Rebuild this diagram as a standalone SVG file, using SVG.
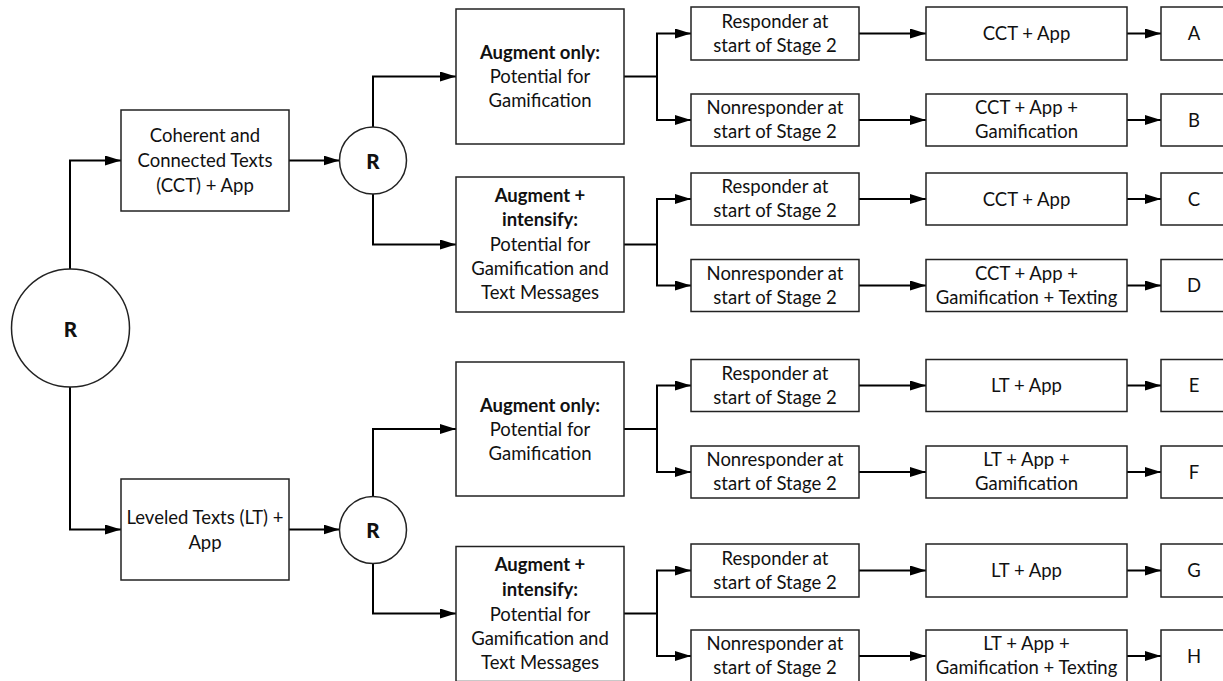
<svg xmlns="http://www.w3.org/2000/svg" width="1223" height="681" viewBox="0 0 1223 681">
<defs>
<marker id="arr" markerUnits="userSpaceOnUse" markerWidth="16" markerHeight="10" refX="16" refY="5" orient="auto">
<path d="M0,0 L16,5 L0,10 z" fill="#000"/>
</marker>
<style>
.box{fill:#fff;stroke:#222;stroke-width:1.5}
.c{fill:none;stroke:#000;stroke-width:2;marker-end:url(#arr)}
text{font-family:Lato,"Liberation Sans",sans-serif;font-size:18.5px;fill:#111;text-anchor:middle}
.b{font-weight:bold}
.r{font-weight:900;font-size:20.5px}
</style>
</defs>
<rect width="1223" height="681" fill="#fff"/>
<g id="connectors">
<path class="c" d="M70,269 V160.5 H121"/>
<path class="c" d="M70,387 V529.5 H121"/>
<path class="c" d="M289,160.5 H339.5"/>
<path class="c" d="M289,529.5 H339.5"/>
<path class="c" d="M373,127 V76.5 H456"/>
<path class="c" d="M373,194 V244.5 H456"/>
<path class="c" d="M373,496.5 V429 H456"/>
<path class="c" d="M373,563.5 V613.5 H456"/>
<path class="c" d="M624,76.5 H657 V33.5 H691"/>
<path class="c" d="M657,76.5 V120 H691"/>
<path class="c" d="M624,244.5 H657 V199 H691"/>
<path class="c" d="M657,244.5 V285.5 H691"/>
<path class="c" d="M624,429 H657 V385.5 H691"/>
<path class="c" d="M657,429 V472 H691"/>
<path class="c" d="M624,613.5 H657 V570.5 H691"/>
<path class="c" d="M657,613.5 V656 H691"/>
<path class="c" d="M859,33.5 H926"/><path class="c" d="M1127,33.5 H1161"/>
<path class="c" d="M859,120 H926"/><path class="c" d="M1127,120 H1161"/>
<path class="c" d="M859,199 H926"/><path class="c" d="M1127,199 H1161"/>
<path class="c" d="M859,285.5 H926"/><path class="c" d="M1127,285.5 H1161"/>
<path class="c" d="M859,385.5 H926"/><path class="c" d="M1127,385.5 H1161"/>
<path class="c" d="M859,472 H926"/><path class="c" d="M1127,472 H1161"/>
<path class="c" d="M859,570.5 H926"/><path class="c" d="M1127,570.5 H1161"/>
<path class="c" d="M859,656 H926"/><path class="c" d="M1127,656 H1161"/>
</g>
<g id="R0"><circle class="box" cx="70.5" cy="328" r="59"/><text class="r" x="70.5" y="336.5">R</text></g>
<g id="cct"><rect class="box" x="121" y="110" width="168" height="101"/>
<text x="205" y="142">Coherent and</text><text x="205" y="167">Connected Texts</text><text x="205" y="192">(CCT) + App</text></g>
<g id="lt"><rect class="box" x="121" y="479" width="168" height="101"/>
<text x="205" y="523.5">Leveled Texts (LT) +</text><text x="205" y="548.5">App</text></g>
<g id="R1"><circle class="box" cx="373" cy="160.5" r="33.5"/><text class="r" x="373" y="168.5">R</text></g>
<g id="R2"><circle class="box" cx="373" cy="530" r="33.5"/><text class="r" x="373" y="538">R</text></g>
<g id="aug1"><rect class="box" x="456" y="9" width="168" height="135"/>
<text class="b" x="540" y="59">Augment only:</text><text x="540" y="83">Potential for</text><text x="540" y="107">Gamification</text></g>
<g id="augint1"><rect class="box" x="456" y="177" width="168" height="135"/>
<text class="b" x="540" y="201.5">Augment +</text><text class="b" x="540" y="226">intensify:</text><text x="540" y="251">Potential for</text><text x="540" y="275">Gamification and</text><text x="540" y="299">Text Messages</text></g>
<g id="aug2"><rect class="box" x="456" y="362" width="168" height="134"/>
<text class="b" x="540" y="411.5">Augment only:</text><text x="540" y="435.5">Potential for</text><text x="540" y="459.5">Gamification</text></g>
<g id="augint2"><rect class="box" x="456" y="546.5" width="168" height="135"/>
<text class="b" x="540" y="571">Augment +</text><text class="b" x="540" y="595.5">intensify:</text><text x="540" y="620.5">Potential for</text><text x="540" y="644.5">Gamification and</text><text x="540" y="668.5">Text Messages</text></g>
<g id="resp1"><rect class="box" x="691" y="7" width="168" height="53"/><text x="775" y="27.5">Responder at</text><text x="775" y="51.5">start of Stage 2</text></g>
<g id="non1"><rect class="box" x="691" y="94" width="168" height="52"/><text x="775" y="114">Nonresponder at</text><text x="775" y="138">start of Stage 2</text></g>
<g id="resp2"><rect class="box" x="691" y="173" width="168" height="52"/><text x="775" y="193">Responder at</text><text x="775" y="217">start of Stage 2</text></g>
<g id="non2"><rect class="box" x="691" y="259.5" width="168" height="52"/><text x="775" y="279.5">Nonresponder at</text><text x="775" y="303.5">start of Stage 2</text></g>
<g id="resp3"><rect class="box" x="691" y="359.5" width="168" height="52"/><text x="775" y="379.5">Responder at</text><text x="775" y="403.5">start of Stage 2</text></g>
<g id="non3"><rect class="box" x="691" y="446" width="168" height="52"/><text x="775" y="466">Nonresponder at</text><text x="775" y="490">start of Stage 2</text></g>
<g id="resp4"><rect class="box" x="691" y="544" width="168" height="53"/><text x="775" y="564.5">Responder at</text><text x="775" y="588.5">start of Stage 2</text></g>
<g id="non4"><rect class="box" x="691" y="630" width="168" height="52"/><text x="775" y="650">Nonresponder at</text><text x="775" y="674">start of Stage 2</text></g>
<g id="t1"><rect class="box" x="926" y="7" width="201" height="53"/><text x="1026.5" y="40">CCT + App</text></g>
<g id="t2"><rect class="box" x="926" y="94" width="201" height="52"/><text x="1026.5" y="114">CCT + App +</text><text x="1026.5" y="138">Gamification</text></g>
<g id="t3"><rect class="box" x="926" y="173" width="201" height="52"/><text x="1026.5" y="205.5">CCT + App</text></g>
<g id="t4"><rect class="box" x="926" y="259.5" width="201" height="52"/><text x="1026.5" y="279.5">CCT + App +</text><text x="1026.5" y="303.5">Gamification + Texting</text></g>
<g id="t5"><rect class="box" x="926" y="359.5" width="201" height="52"/><text x="1026.5" y="392">LT + App</text></g>
<g id="t6"><rect class="box" x="926" y="446" width="201" height="52"/><text x="1026.5" y="466">LT + App +</text><text x="1026.5" y="490">Gamification</text></g>
<g id="t7"><rect class="box" x="926" y="544" width="201" height="53"/><text x="1026.5" y="577">LT + App</text></g>
<g id="t8"><rect class="box" x="926" y="630" width="201" height="52"/><text x="1026.5" y="650">LT + App +</text><text x="1026.5" y="674">Gamification + Texting</text></g>
<g id="A"><rect class="box" x="1161" y="7" width="66" height="53"/><text x="1194" y="40">A</text></g>
<g id="B"><rect class="box" x="1161" y="94" width="66" height="52"/><text x="1194" y="126.5">B</text></g>
<g id="C"><rect class="box" x="1161" y="173" width="66" height="52"/><text x="1194" y="205.5">C</text></g>
<g id="D"><rect class="box" x="1161" y="259.5" width="66" height="52"/><text x="1194" y="292">D</text></g>
<g id="E"><rect class="box" x="1161" y="359.5" width="66" height="52"/><text x="1194" y="392">E</text></g>
<g id="F"><rect class="box" x="1161" y="446" width="66" height="52"/><text x="1194" y="478.5">F</text></g>
<g id="G"><rect class="box" x="1161" y="544" width="66" height="53"/><text x="1194" y="577">G</text></g>
<g id="H"><rect class="box" x="1161" y="630" width="66" height="52"/><text x="1194" y="662.5">H</text></g>
</svg>
